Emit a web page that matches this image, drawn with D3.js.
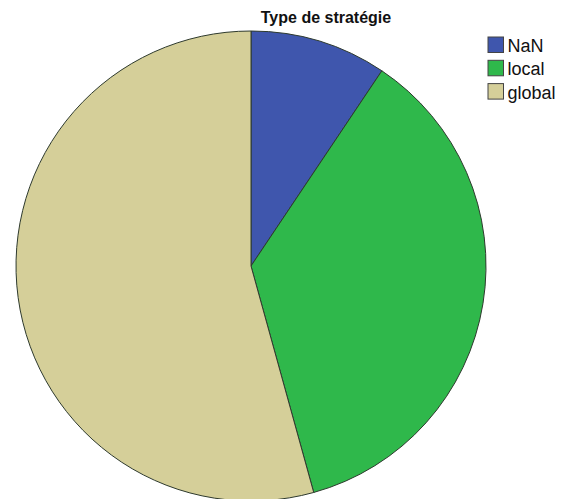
<!DOCTYPE html>
<html>
<head>
<meta charset="utf-8">
<script src="https://cdn.jsdelivr.net/npm/d3@7"></script>
<style>
  html, body { margin: 0; padding: 0; background: #fff; }
  svg { display: block; }
</style>
</head>
<body>
<svg id="chart" width="561" height="499"></svg>
<script>
// Share of each strategy type (percent)
const categories = ["NaN", "local", "global"];
const values = [9.4, 36.3, 54.3];
const colors = ["#3f56ad", "#2fb84b", "#d5cf99"];
const title = "Type de stratégie";

const svg = d3.select("#chart");
const cx = 251, cy = 266, radius = 235;

const color = d3.scaleOrdinal().domain(categories).range(colors);

const pie = d3.pie().sort(null).value(d => d.value);
const arc = d3.arc().innerRadius(0).outerRadius(radius);
const data = categories.map((c, i) => ({ name: c, value: values[i] }));

const g = svg.append("g").attr("transform", `translate(${cx},${cy})`);
g.selectAll("path")
  .data(pie(data))
  .join("path")
  .attr("d", arc)
  .attr("fill", d => color(d.data.name))
  .attr("stroke", "#2e3a2e")
  .attr("stroke-width", 1);

svg.append("text")
  .attr("x", 326)
  .attr("y", 23)
  .attr("text-anchor", "middle")
  .attr("font-family", "Liberation Sans, Arial, sans-serif")
  .attr("font-size", 16)
  .attr("font-weight", "bold")
  .attr("fill", "#111")
  .text(title);

const legend = svg.append("g").attr("transform", "translate(488,37)");
const rows = legend.selectAll("g")
  .data(categories)
  .join("g")
  .attr("transform", (d, i) => `translate(0,${i * 23.3})`);
rows.append("rect")
  .attr("width", 15.5).attr("height", 15.5)
  .attr("fill", d => color(d))
  .attr("stroke", "#444").attr("stroke-width", 1);
rows.append("text")
  .attr("x", 19.5).attr("y", 15)
  .attr("font-family", "Liberation Sans, Arial, sans-serif")
  .attr("font-size", 18)
  .attr("fill", "#111")
  .text(d => d);
</script>
</body>
</html>
